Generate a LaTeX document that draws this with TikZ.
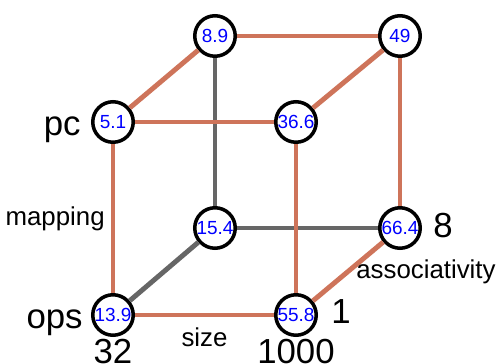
\documentclass[tikz,border=0pt]{standalone}
\usepackage{fontspec}
\setmainfont{Liberation Sans}
\usepackage{xcolor}
\usetikzlibrary{positioning}
\definecolor{edgeorange}{RGB}{206,116,90}
\definecolor{edgegray}{RGB}{102,102,102}
\tikzset{
  val/.style={circle, on grid, draw=black, line width=2pt, fill=white, minimum size=8.1mm,
    inner sep=0pt, text=blue, font=\fontsize{10.8}{12}\selectfont},
  lab/.style={font=\fontsize{19.8}{22}\selectfont, text height=5.2mm,
    text depth=0pt, inner sep=0pt},
  axis/.style={font=\fontsize{14.7}{16}\selectfont},
  hot/.style={draw=edgeorange, line width=2.8pt},
  cold/.style={draw=edgegray, line width=2.8pt},
}
\begin{document}
\begin{tikzpicture}
  \useasboundingbox (-2.26,-0.96) rectangle (7.72,6.30);
  % front face
  \node[val] (ops) at (0,0) {13.9};
  \node[val, right=3.66cm of ops] (opsbig) {55.8};
  \node[val, above=3.86cm of ops] (pc) {5.1};
  \node[val, above=3.86cm of opsbig] (pcbig) {36.6};
  % back face
  \node[val, above right=1.74cm and 2.04cm of ops] (opsassoc) {15.4};
  \node[val, right=3.7cm of opsassoc] (opsall) {66.4};
  \node[val, above=3.84cm of opsassoc] (pcassoc) {8.9};
  \node[val, right=3.7cm of pcassoc] (pcall) {49};
  % value labels
  \node[lab, left=2mm of pc] (pclab) {pc};
  \node[lab, left=1.6mm of ops] (opslab) {ops};
  \node[lab, below=0mm of ops] (smalllab) {32};
  \node[lab, below=0mm of opsbig] (biglab) {1000};
  \node[lab, right=2.6mm of opsbig, yshift=1mm] (onelab) {1};
  \node[lab, right=2.2mm of opsall, yshift=0.8mm] (eightlab) {8};
  % edges
  \draw[cold] (pcassoc) -- (opsassoc);
  \draw[cold] (opsassoc) -- (opsall);
  \draw[cold] (opsassoc) -- (ops);
  \draw[hot] (pcassoc) -- (pcall);
  \draw[hot] (pcassoc) -- (pc);
  \draw[hot] (pc) -- (pcbig);
  \draw[hot] (pcall) -- (pcbig);
  \draw[hot] (pcall) -- (opsall);
  \draw[hot] (pc) -- node[left, axis] {mapping} (ops);
  \draw[hot] (pcbig) -- (opsbig);
  \draw[hot] (ops) -- node[below, axis, yshift=-0.8mm] {size} (opsbig);
  \draw[hot] (opsbig) -- node[right, axis] {associativity} (opsall);
\end{tikzpicture}
\end{document}
